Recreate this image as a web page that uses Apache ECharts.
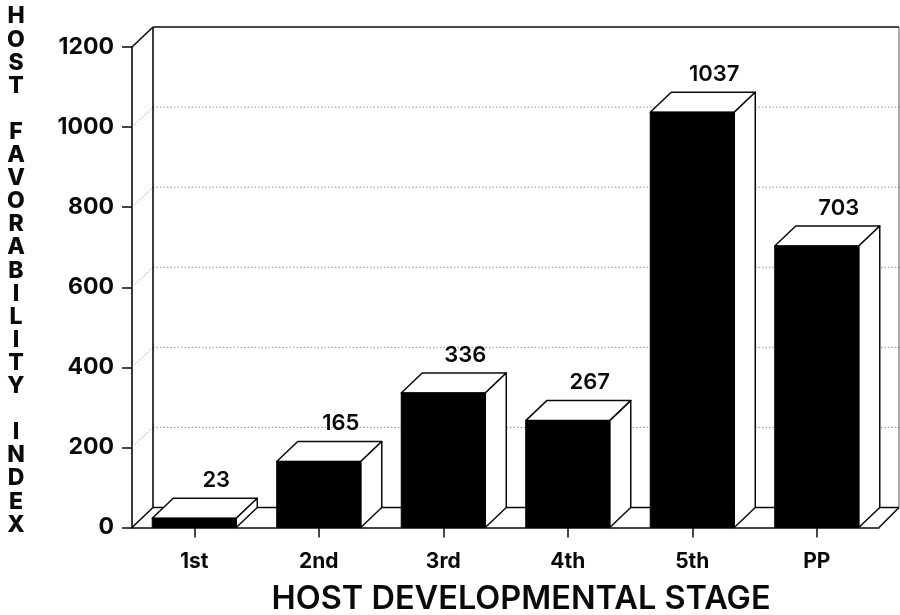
<!DOCTYPE html>
<html><head><meta charset="utf-8">
<style>html,body{margin:0;padding:0;background:#fff}#c{width:900px;height:615px}</style>
<script src="https://cdn.jsdelivr.net/npm/echarts@6/dist/echarts.min.js"></script>
</head><body><div id="c"></div>
<script>
const categories = ['1st','2nd','3rd','4th','5th','PP'];
const hostFavorability = [23,165,336,267,1037,703];
const yTicks = [0,200,400,600,800,1000,1200];
const xTitle = 'HOST DEVELOPMENTAL STAGE';
const yTitle = 'HOST FAVORABILITY INDEX';

const DX = 21, DY = 20;
const INK = '#0a0a0a';
const FONT = 'Inter, "Liberation Sans", Arial, sans-serif';

const chart = echarts.init(document.getElementById('c'), null, {renderer:'canvas'});

function renderFrame(params, api) {
  const g = params.coordSys;
  const x0 = g.x, x1 = g.x + g.width, top = g.y, bot = g.y + g.height;
  const line = (a,b,c,d,style) => ({type:'line', shape:{x1:a,y1:b,x2:c,y2:d}, style});
  const solid = {stroke:INK, lineWidth:1.6};
  const dotted = {stroke:'#777', lineWidth:0.8, lineDash:[1.5,2]};
  const children = [];
  yTicks.forEach(t => {
    if (t === 0 || t === 1200) return;
    const y = api.coord([0,t])[1];
    children.push(line(x0,y,x0+DX,y-DY,dotted));
    children.push(line(x0+DX,y-DY,x1+DX,y-DY,dotted));
  });
  children.push(line(x0,top,x0+DX,top-DY,solid));
  children.push(line(x0+DX,top-DY,x1+DX-1,top-DY,solid));
  children.push(line(x0+DX,top-DY,x0+DX,bot-DY,solid));
  children.push(line(x1+DX-1,top-DY,x1+DX-1,bot-DY,{stroke:'#555',lineWidth:1}));
  children.push(line(x0+DX,bot-DY,x1+DX-1,bot-DY,solid));
  children.push(line(x0,bot,x0+DX,bot-DY,solid));
  children.push(line(x1,bot,x1+DX-1,bot-DY,solid));
  return {type:'group', children};
}

function renderBar(params, api) {
  const c = api.coord([api.value(0), api.value(1)]);
  const base = api.coord([api.value(0), 0]);
  const w = api.size([1,0])[0] * 0.675;
  const l = c[0]-w/2, r = c[0]+w/2, t = c[1], b = base[1];
  const st = {fill:'#fff', stroke:INK, lineWidth:1.5, lineJoin:'round'};
  return {type:'group', children:[
    {type:'polygon', shape:{points:[[l,t],[l+DX,t-DY],[r+DX,t-DY],[r,t]]}, style:st},
    {type:'polygon', shape:{points:[[r,t],[r+DX,t-DY],[r+DX,b-DY],[r,b]]}, style:st},
    {type:'rect', shape:{x:l,y:t,width:w,height:b-t}, style:{fill:'#000',stroke:'#000',lineWidth:1}},
    {type:'text', x:c[0]+DX+1, y:t-DY-18, style:{
      text:String(api.value(1)), fill:INK, font:'600 22px '+FONT, align:'center', verticalAlign:'middle'}}
  ]};
}

chart.setOption({
  animation:false,
  backgroundColor:'#fff',
  title:[
    {text:xTitle, left:516, top:578, textAlign:'center',
     textStyle:{fontFamily:FONT, fontWeight:600, fontSize:32.5, color:INK}},
    {text:yTitle.split('').join('\n'), left:11, top:0, textAlign:'center',
     textStyle:{fontFamily:FONT, fontWeight:800, fontSize:23, lineHeight:23.1, color:INK}}
  ],
  grid:{left:132, right:21, top:47, bottom:87.5, containLabel:false},
  xAxis:{type:'category', data:categories, boundaryGap:true,
    axisLine:{show:true, lineStyle:{color:INK,width:1.6}},
    axisTick:{show:true, alignWithLabel:true, length:10, lineStyle:{color:INK,width:1.5}},
    axisLabel:{margin:24, fontFamily:FONT, fontWeight:700, fontSize:21, color:INK, interval:0},
    splitLine:{show:false}},
  yAxis:{type:'value', min:0, max:1200, interval:200,
    axisLine:{show:true, lineStyle:{color:INK,width:1.6}},
    axisTick:{show:true, length:10, lineStyle:{color:INK,width:1.5}},
    axisLabel:{margin:18, fontFamily:FONT, fontWeight:700, fontSize:23, color:INK, formatter:v=>String(v)},
    splitLine:{show:false}},
  series:[
    {type:'custom', name:'frame', coordinateSystem:'cartesian2d', clip:false, silent:true,
     data:[[0,0]], encode:{x:0,y:1}, renderItem:renderFrame, z:1},
    {type:'custom', name:'Host favorability', coordinateSystem:'cartesian2d', clip:false,
     data:hostFavorability.map((v,i)=>[i,v]), encode:{x:0,y:1}, renderItem:renderBar, z:3}
  ]
});
</script></body></html>
